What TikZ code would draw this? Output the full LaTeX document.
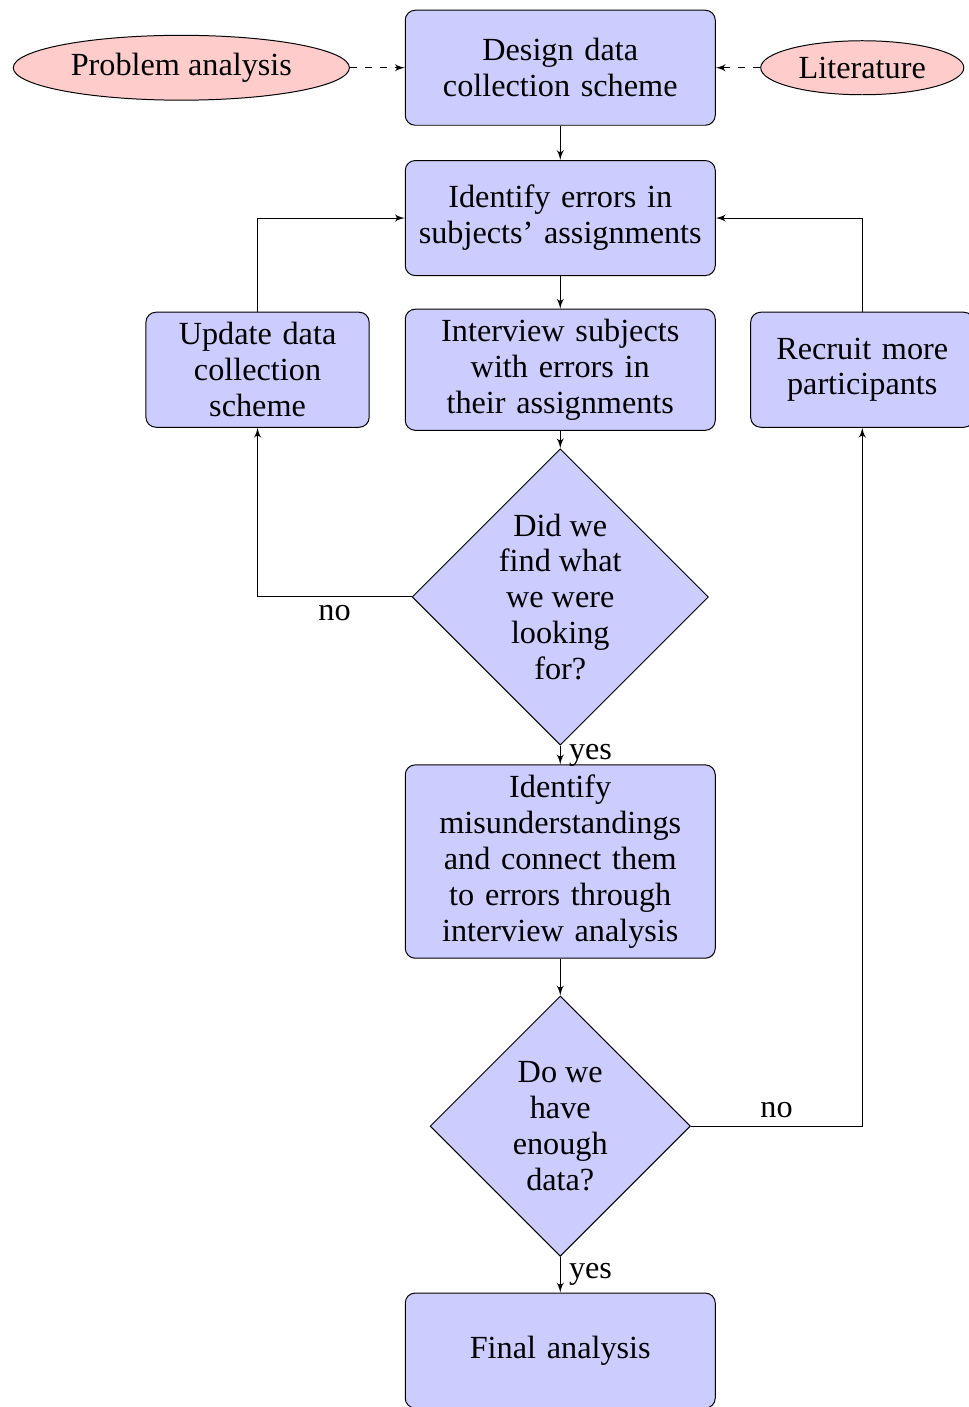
\documentclass[tikz,border=0pt]{standalone}
\usepackage{fontspec}
\setmainfont{Liberation Serif}
\usetikzlibrary{shapes.geometric, arrows}

\begin{document}
\begin{tikzpicture}[
  font=\fontsize{13}{14.5}\selectfont,
  block/.style={rectangle, draw, fill=blue!20, text width=117pt, align=center,
    rounded corners, inner sep=4pt, minimum height=1.63cm},
  sideblock/.style={block, text width=82pt},
  decision/.style={diamond, draw, fill=blue!20, aspect=1, inner sep=0pt, align=center},
  cloud/.style={ellipse, draw, fill=red!20},
  line/.style={draw, -latex'}
]
\useasboundingbox (0,0) rectangle (13.72,-19.94);
% nodes
\node [cloud] (problem) at (2.57,-0.96) {Problem analysis};
\node [block] (design) at (7.94,-0.96) {Design data\\collection scheme};
\node [cloud] (literature) at (12.22,-0.96) {Literature};
\node [block] (identify) at (7.94,-3.09) {Identify errors in\\subjects’ assignments};
\node [block] (interview) at (7.94,-5.24) {Interview subjects\\with errors in\\their assignments};
\node [sideblock] (update) at (3.65,-5.24) {Update data\\collection\\scheme};
\node [sideblock] (recruit) at (12.22,-5.24) {Recruit more\\participants};
\node [decision, minimum size=4.2cm] (didwe) at (7.94,-8.46) {Did we\\find what\\we were\\looking\\for?};
\node [block] (misund) at (7.94,-12.21) {Identify\\misunderstandings\\and connect them\\to errors through\\interview analysis};
\node [decision, minimum size=3.69cm] (enough) at (7.94,-15.96) {Do we\\have\\enough\\data?};
\node [block] (final) at (7.94,-19.14) {Final analysis};
% edges
\draw [line, dashed] (problem) -- (design);
\draw [line, dashed] (literature) -- (design);
\draw [line] (design) -- (identify);
\draw [line] (identify) -- (interview);
\draw [line] (interview) -- (didwe);
\draw [line] (didwe) -| node [pos=0.25, below] {no} (update);
\draw [line] (didwe) -- node [midway, right] {yes} (misund);
\draw [line] (update) |- (identify);
\draw [line] (misund) -- (enough);
\draw [line] (enough) -| node [pos=0.25, above] {no} (recruit);
\draw [line] (enough) -- node [midway, right] {yes} (final);
\draw [line] (recruit) |- (identify);
\end{tikzpicture}
\end{document}
